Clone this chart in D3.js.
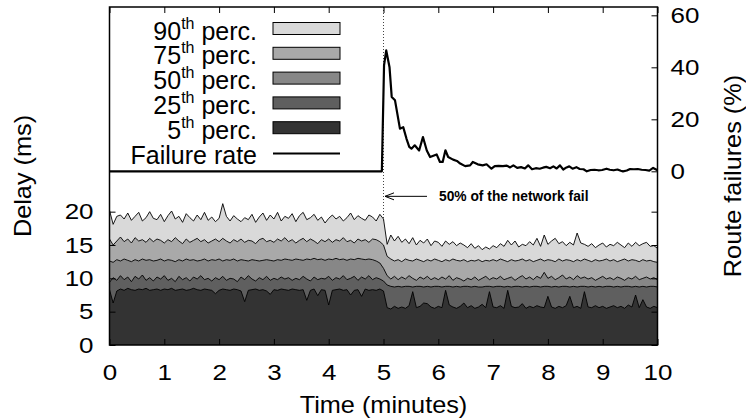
<!DOCTYPE html>
<html><head><meta charset="utf-8">
<script src="https://cdn.jsdelivr.net/npm/d3@7"></script>
<style>
html,body{margin:0;padding:0;background:#fff;}
svg text{font-family:"Liberation Sans",Arial,Helvetica,sans-serif;fill:#000;}
</style></head>
<body>
<svg id="c" width="746" height="420"></svg>
<script>
// ---------- data ----------
const xTicks = [0,1,2,3,4,5,6,7,8,9,10];
const delayTicks = [0,5,10,15,20];
const failTicks = [0,20,40,60];
const sampleStepMin = 4/60; // one sample every 4 s

const p90 = [
20.2,18.1,19.3,19.5,18.9,19.8,18.7,19.3,19.9,18.6,19.1,20.0,19.0,18.8,19.6,
18.5,19.4,20.1,18.9,19.3,18.4,19.7,19.1,18.6,19.5,18.8,19.9,18.7,19.2,18.5,
19.0,21.2,19.3,18.6,19.4,18.9,18.5,19.1,18.8,19.6,18.4,19.2,19.8,18.7,19.5,
18.9,19.9,18.6,19.3,19.0,19.7,18.5,19.4,19.9,18.8,19.1,19.6,18.7,19.2,18.3,
19.0,19.5,18.9,19.3,18.6,19.1,19.8,18.8,19.4,19.0,18.7,19.5,19.2,18.6,19.6,
18.9,15.1,16.5,15.6,16.3,15.4,15.9,15.2,16.1,15.0,15.7,15.3,15.9,14.9,15.6,
15.4,14.8,15.6,15.1,15.5,14.9,15.3,15.0,14.6,15.2,14.5,14.9,14.3,14.7,14.4,
14.9,14.6,15.2,14.8,15.7,15.0,15.6,14.7,15.1,14.9,15.5,15.0,16.0,14.8,16.5,
15.1,15.6,16.0,15.2,15.5,14.9,15.4,15.0,16.8,15.3,15.1,14.8,15.2,14.6,15.0,
15.3,14.7,15.1,14.9,15.4,15.0,14.6,15.3,14.8,15.4,14.9,15.2,15.4,14.8,14.9,
14.5];
const p75 = [
15.9,15.0,15.6,16.2,15.5,15.9,15.3,16.1,15.6,15.8,15.4,16.0,15.5,15.9,15.7,
15.3,15.8,15.5,16.1,15.6,15.2,15.9,15.4,15.7,16.0,15.5,15.8,15.3,15.6,15.9,
15.5,16.0,15.6,15.3,15.8,15.5,15.9,15.4,15.7,15.6,15.2,15.8,16.0,15.5,15.7,
15.4,15.9,15.6,16.1,15.5,15.8,15.3,15.7,16.0,15.5,15.9,15.6,15.2,15.8,15.5,
15.9,15.4,15.8,15.6,16.1,15.5,15.7,15.3,15.9,15.6,15.8,15.4,15.9,15.8,15.5,
15.0,13.3,12.9,12.6,12.8,12.5,12.9,12.7,12.6,12.9,12.7,12.5,12.8,12.6,12.9,
12.7,12.5,12.8,12.6,12.9,12.7,12.6,12.8,12.5,12.7,12.6,12.8,12.5,12.7,12.6,
12.8,12.6,12.9,12.7,12.5,12.8,12.6,12.7,12.9,12.6,12.8,12.5,12.7,12.9,12.6,
12.8,12.7,12.5,12.9,12.6,12.8,12.7,12.5,12.8,12.6,12.9,12.7,12.5,12.8,12.6,
12.7,12.9,12.6,12.8,12.5,12.7,12.9,12.6,12.8,12.7,12.5,12.8,12.6,12.7,12.5,
12.4];
const p50 = [
12.6,12.4,12.8,12.6,12.9,12.7,12.5,12.8,12.6,12.9,12.7,12.8,12.6,12.7,12.9,
12.6,12.8,12.7,12.5,12.8,12.6,12.9,12.7,12.8,12.6,12.7,12.9,12.6,12.8,12.7,
12.9,12.6,12.8,12.7,12.9,12.6,12.8,12.7,12.6,12.8,12.7,12.6,12.7,12.8,12.7,
12.6,12.8,12.7,12.9,12.8,12.7,12.9,12.8,12.7,12.9,12.8,13.0,12.8,12.9,12.7,
12.9,12.8,13.0,12.8,12.9,12.7,12.9,12.8,13.0,12.9,12.8,12.9,12.8,12.6,12.3,
11.5,10.4,9.9,10.3,9.8,10.2,9.9,10.4,10.0,9.7,10.2,9.9,10.3,9.8,10.1,
9.8,10.2,9.9,10.4,9.7,10.1,9.9,9.6,10.0,9.8,10.2,9.7,10.0,10.3,9.8,
10.1,9.9,10.3,9.8,10.0,10.2,9.7,10.1,10.4,9.9,10.2,9.8,10.3,10.0,10.9,
10.0,10.3,9.8,10.1,10.5,9.9,10.2,9.8,10.4,10.0,10.2,9.9,10.1,9.7,10.0,
10.3,9.9,10.1,9.8,10.2,10.0,9.7,10.1,9.9,10.3,9.8,10.0,10.2,9.9,10.1,
9.8];
const p25 = [
9.4,10.1,9.7,10.4,9.8,10.2,9.5,10.3,9.9,10.5,9.7,10.1,9.6,10.2,9.9,
10.4,9.7,10.0,9.5,10.3,9.8,10.1,9.6,10.2,9.9,10.4,9.8,10.0,9.6,10.1,
9.8,10.3,9.7,10.0,9.9,9.5,10.2,9.8,10.4,9.9,9.6,10.1,9.8,10.3,9.7,
10.0,9.8,10.2,9.9,10.1,9.7,10.0,9.8,10.3,9.9,9.6,10.2,9.8,10.0,9.9,
10.3,9.7,10.1,9.9,10.4,9.8,10.0,10.3,9.7,10.2,9.9,10.4,9.8,10.1,9.9,
9.6,9.0,8.8,8.7,8.8,8.7,8.8,8.8,8.7,8.8,8.8,8.7,8.8,8.7,8.8,
8.8,8.7,8.8,8.8,8.7,8.8,8.7,8.8,8.8,8.7,8.8,8.7,8.7,8.8,8.8,
8.7,8.8,8.8,8.7,8.8,8.7,8.8,8.8,8.7,8.8,8.7,8.8,8.8,8.7,8.8,
8.8,8.7,8.8,8.7,8.8,8.8,8.7,8.8,8.7,8.8,8.8,8.7,8.8,8.7,8.8,
8.7,8.8,8.8,8.7,8.8,8.7,8.8,8.8,8.7,8.8,8.7,8.8,8.7,8.8,8.8,
8.7];
const p5 = [
8.3,6.3,8.1,8.4,8.2,8.5,8.3,8.2,8.4,8.3,8.5,8.2,8.3,8.4,8.2,
8.4,8.3,8.5,8.2,8.3,8.4,8.2,8.3,8.5,8.3,8.2,8.4,8.3,8.2,7.7,
8.2,8.4,8.3,8.2,8.4,8.3,8.1,6.5,8.2,8.3,8.4,8.2,8.3,8.1,7.6,
8.3,8.2,8.4,8.3,8.2,8.4,8.3,8.2,8.3,6.7,8.2,8.4,7.4,8.3,8.2,
6.0,8.2,8.3,8.4,8.2,8.3,7.5,8.2,8.3,7.3,8.4,8.2,8.3,8.2,8.4,
8.1,5.6,5.4,5.8,5.5,5.7,5.5,5.9,8.0,5.6,5.8,6.3,6.2,5.7,5.5,
5.8,5.6,8.2,6.0,5.7,5.5,5.8,6.3,5.6,5.9,5.5,5.7,6.1,5.6,8.0,
5.7,5.6,5.9,5.5,8.2,5.8,5.6,5.7,6.2,5.5,5.8,5.6,5.9,5.7,5.6,
7.3,5.7,5.5,5.8,5.6,5.9,7.3,5.6,5.8,5.5,8.0,5.7,5.6,5.9,5.6,
5.8,5.5,5.7,5.9,5.6,5.8,5.5,6.0,5.7,7.5,5.6,6.8,5.7,5.5,5.8,
5.6];

const failTime = [0,4.97,5.01,5.05,5.11,5.15,5.21,5.30,5.36,5.42,5.47,5.51,5.57,5.65,5.72,5.79,5.85,5.91,5.97,6.03,6.08,6.13,6.18,6.27,6.34,6.40,6.49,6.58,6.63,6.72,6.81,6.88,6.97,7.03,7.10,7.18,7.25,7.31,7.37,7.44,7.51,7.58,7.64,7.71,7.78,7.85,7.91,7.97,8.04,8.10,8.16,8.22,8.28,8.34,8.39,8.45,8.52,8.58,8.65,8.71,8.78,8.85,8.92,8.99,9.07,9.13,9.20,9.27,9.33,9.37,9.44,9.50,9.57,9.64,9.71,9.78,9.85,9.92,10.0];
const failRate = [0,0,40.8,46.5,40.0,28.6,27.3,16.4,17.0,12.5,9.4,8.7,10.0,8.0,13.2,8.0,5.5,6.0,6.5,3.6,3.6,8.1,5.5,4.5,4.0,3.0,2.0,2.3,3.6,2.7,2.3,2.7,1.0,2.0,2.1,2.0,2.2,1.5,2.3,1.3,1.6,1.1,2.3,0.8,1.2,1.0,1.4,1.7,1.2,1.9,1.1,2.3,0.7,1.5,1.9,1.0,1.6,0.9,0.8,0.0,0.5,0.6,0.4,0.5,1.0,0.6,0.4,0.7,0.2,0.0,0.3,0.9,0.8,0.9,0.6,0.5,0.3,1.3,0.4];

const seriesNames = ["90","75","50","25","5"];
const seriesColors = ["#d9d9d9","#a9a9a9","#878787","#5f5f5f","#333333"];
const annotationText = "50% of the network fail";
const eventTime = 5;

// ---------- layout ----------
const L = 109.5, R = 657.5, T = 7, B = 345;
const svg = d3.select("#c");
const x = d3.scaleLinear().domain([0,10]).range([L,R]);
const yL = d3.scaleLinear().domain([0,50.7]).range([B,T]);
const yR = d3.scaleLinear().domain([-66.8,63.2]).range([B,T]);

const series = [p90,p75,p50,p25,p5];

function stretch(sel, sx){
  sel.each(function(){
    const el = d3.select(this);
    const x0 = +el.attr("x") || 0;
    el.attr("transform", `translate(${x0},0) scale(${sx},1) translate(${-x0},0)`);
  });
}

// dotted event line
svg.append("line").attr("x1",x(eventTime)).attr("x2",x(eventTime)).attr("y1",T).attr("y2",B)
  .attr("stroke","#444").attr("stroke-width",1).attr("stroke-dasharray","1,2");

// areas
series.forEach((s,k)=>{
  const pts = s.map((v,i)=>[i*sampleStepMin, v]);
  const area = d3.area().x(d=>x(d[0])).y0(yL(0)).y1(d=>yL(d[1]));
  svg.append("path").attr("d",area(pts)).attr("fill",seriesColors[k]).attr("stroke","none");
});
series.forEach((s,k)=>{
  const pts = s.map((v,i)=>[i*sampleStepMin, v]);
  const line = d3.line().x(d=>x(d[0])).y(d=>yL(d[1]));
  svg.append("path").attr("d",line(pts)).attr("fill","none").attr("stroke","#000").attr("stroke-width",0.9);
});

// failure rate
const nF = Math.min(failTime.length, failRate.length);
const fpts = d3.range(nF).map(i=>[failTime[i], failRate[i]]);
svg.append("path").attr("d", d3.line().x(d=>x(d[0])).y(d=>yR(d[1]))(fpts))
  .attr("fill","none").attr("stroke","#000").attr("stroke-width",2.2).attr("stroke-linejoin","round");

// frame
svg.append("rect").attr("x",L).attr("y",T).attr("width",R-L).attr("height",B-T)
  .attr("fill","none").attr("stroke","#000").attr("stroke-width",1.5);

// inward ticks
function ticksOnly(g){ g.select(".domain").remove(); g.selectAll("text").remove(); g.selectAll("line").attr("stroke","#000").attr("stroke-width",1); }
svg.append("g").attr("transform",`translate(0,${B})`).call(d3.axisBottom(x).tickValues(xTicks).tickSize(-6)).call(ticksOnly);
svg.append("g").attr("transform",`translate(0,${T})`).call(d3.axisTop(x).tickValues(xTicks).tickSize(-6)).call(ticksOnly);
svg.append("g").attr("transform",`translate(${L},0)`).call(d3.axisLeft(yL).tickValues(delayTicks).tickSize(-6)).call(ticksOnly);
svg.append("g").attr("transform",`translate(${R},0)`).call(d3.axisRight(yL).tickValues(delayTicks).tickSize(-6)).call(ticksOnly);
svg.append("g").attr("transform",`translate(${R},0)`).call(d3.axisRight(yR).tickValues(failTicks).tickSize(-6)).call(ticksOnly);

// tick labels
const FS = 22, TSX = 1.18;
function labelsOnly(g){
  g.select(".domain").remove(); g.selectAll("line").remove();
  g.selectAll("text").attr("font-size",FS).attr("font-family",null).call(stretch, TSX);
}
svg.append("g").attr("transform",`translate(0,${B})`)
  .call(d3.axisBottom(x).tickValues(xTicks).tickSize(0).tickPadding(19)).call(labelsOnly);
svg.append("g").attr("transform",`translate(${L},0)`)
  .call(d3.axisLeft(yL).tickValues(delayTicks).tickSize(0).tickPadding(16)).call(labelsOnly);
svg.append("g").attr("transform",`translate(${R},0)`)
  .call(d3.axisRight(yR).tickValues(failTicks).tickSize(0).tickPadding(13)).call(labelsOnly);

// axis titles
const TFS = 23, TTX = 1.1;
svg.append("text").attr("x",(L+R)/2).attr("y",413).attr("text-anchor","middle").attr("font-size",TFS).text("Time (minutes)").call(stretch, TTX);
svg.append("text").attr("transform",`translate(31,${(T+B)/2}) rotate(-90) scale(${TTX},1)`).attr("text-anchor","middle").attr("font-size",TFS).text("Delay (ms)");
svg.append("text").attr("transform",`translate(741,${(T+B)/2}) rotate(-90) scale(${TTX},1)`).attr("text-anchor","middle").attr("font-size",TFS).text("Route failures (%)");

// legend
const legX = 257, swX = 273, swW = 67, swH = 12, row0 = 28.5, rowH = 24.8, LFS = 25;
seriesNames.forEach((nm,k)=>{
  const cy = row0 + k*rowH;
  const t = svg.append("text").attr("x",legX).attr("y",cy+11).attr("text-anchor","end").attr("font-size",LFS);
  t.append("tspan").text(nm);
  t.append("tspan").attr("font-size",16).attr("dy",-11).text("th");
  t.append("tspan").attr("dy",11).text(" perc.");
  svg.append("rect").attr("x",swX).attr("y",cy-swH/2).attr("width",swW).attr("height",swH)
    .attr("fill",seriesColors[k]).attr("stroke","#000").attr("stroke-width",1);
});
{
  const cy = row0 + 5*rowH;
  svg.append("text").attr("x",legX).attr("y",cy+11).attr("text-anchor","end").attr("font-size",LFS).text("Failure rate");
  svg.append("line").attr("x1",swX).attr("x2",swX+swW).attr("y1",cy+1).attr("y2",cy+1).attr("stroke","#000").attr("stroke-width",2);
}

// annotation
const ay = yL(22.3);
const ax = x(eventTime)+1.5;
svg.append("line").attr("x1",ax).attr("x2",ax+42).attr("y1",ay).attr("y2",ay).attr("stroke","#000").attr("stroke-width",1);
svg.append("path").attr("d",`M${ax+9},${ay-3.5}L${ax},${ay}L${ax+9},${ay+3.5}`).attr("fill","none").attr("stroke","#000").attr("stroke-width",1);
svg.append("text").attr("x",ax+54).attr("y",ay+4.8).attr("font-size",13.8).attr("font-weight","bold").text(annotationText);
</script>
</body></html>
